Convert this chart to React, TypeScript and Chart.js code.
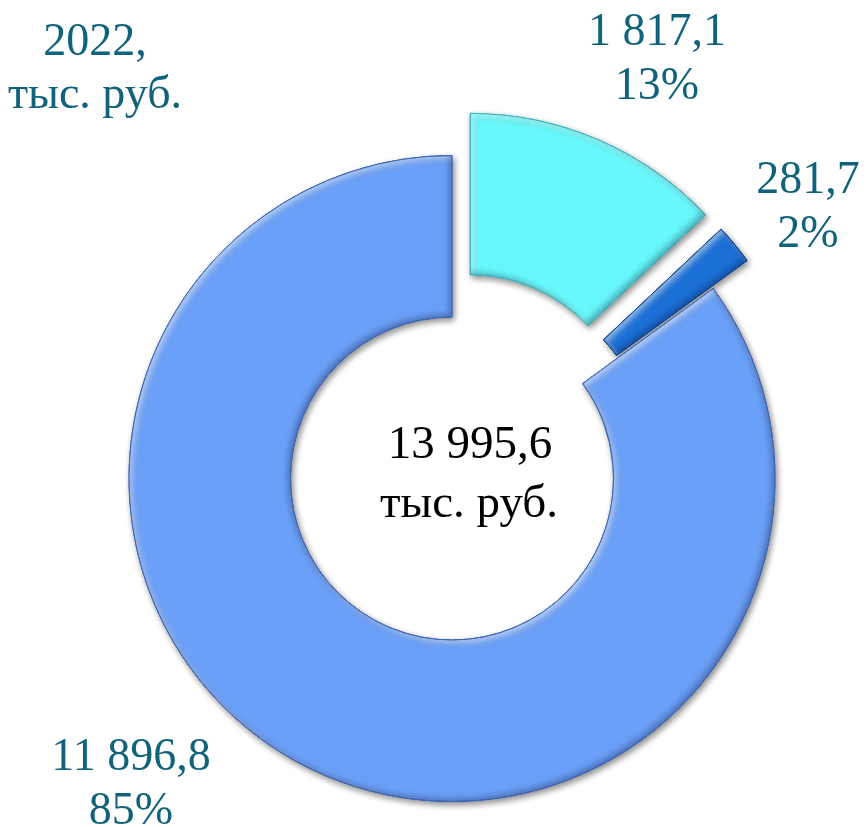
import React, { useEffect, useRef } from 'react';
import { Chart, registerables } from 'chart.js';

Chart.register(...registerables);

// ---- data ----
const categories = ['Часть 1', 'Часть 2', 'Часть 3'];
const values = [1817.1, 281.7, 11896.8];
const titleLines = ['2022,', 'тыс. руб.'];
const unitLabel = 'тыс. руб.';

// ---- styles ----
const fillColors = ['#67f8fb', '#1b70d7', '#6ba0f8'];
const edgeColors = ['#3cc4cc', '#0b4a9e', '#3f6cc0'];
const explode = [46, 44, 0];
const labelColor = '#10637a';
const FONT = '"Liberation Serif", "Times New Roman", serif';

const total = values.reduce((a, b) => a + b, 0);
const fmt = (v: number) => {
  const [i, d] = v.toFixed(1).split('.');
  return i.replace(/\B(?=(\d{3})+(?!\d))/g, ' ') + ',' + d;
};
const pct = (v: number) => Math.round((v / total) * 100) + '%';

// label anchor positions (center x, first baseline y)
const labelAnchors = [
  [657, 45],
  [808, 193],
  [131, 770],
];

const bevelPlugin = {
  id: 'bevelArcs',
  beforeDatasetDraw(chart: any, args: any) {
    const ctx: CanvasRenderingContext2D = chart.ctx;
    args.meta.data.forEach((arc: any, i: number) => {
      const { x, y, startAngle, endAngle, innerRadius, outerRadius } = arc.getProps(
        ['x', 'y', 'startAngle', 'endAngle', 'innerRadius', 'outerRadius'],
        true
      );
      const mid = (startAngle + endAngle) / 2;
      const d = explode[i] || 0;
      ctx.save();
      ctx.translate(Math.cos(mid) * d, Math.sin(mid) * d);
      // drop shadow + body
      ctx.save();
      ctx.shadowColor = 'rgba(0,0,0,0.45)';
      ctx.shadowBlur = 6;
      ctx.shadowOffsetX = 2;
      ctx.shadowOffsetY = 3;
      arc.draw(ctx);
      ctx.restore();
      // bevel
      const p = new Path2D();
      p.arc(x, y, outerRadius, startAngle, endAngle);
      p.arc(x, y, innerRadius, endAngle, startAngle, true);
      p.closePath();
      ctx.save();
      ctx.clip(p);
      const inner = (color: string, ox: number, oy: number, blur: number) => {
        ctx.save();
        ctx.shadowColor = color;
        ctx.shadowBlur = blur;
        ctx.shadowOffsetX = ox;
        ctx.shadowOffsetY = oy;
        const q = new Path2D();
        q.rect(x - 3000, y - 3000, 6000, 6000);
        q.addPath(p);
        ctx.fillStyle = '#000';
        ctx.fill(q, 'evenodd');
        ctx.restore();
      };
      inner('rgba(255,255,255,0.55)', 3, 3, 6);
      inner('rgba(0,0,40,0.28)', -3, -3, 6);
      ctx.restore();
      // thin edge
      ctx.lineWidth = 1;
      ctx.strokeStyle = edgeColors[i];
      ctx.stroke(p);
      ctx.restore();
    });
    return false;
  },
};

const labelPlugin = {
  id: 'labels',
  afterDraw(chart: any) {
    const ctx: CanvasRenderingContext2D = chart.ctx;
    ctx.save();
    ctx.textAlign = 'center';
    ctx.textBaseline = 'alphabetic';
    ctx.fillStyle = labelColor;
    ctx.font = `46px ${FONT}`;
    values.forEach((v, i) => {
      const [lx, ly] = labelAnchors[i];
      ctx.fillText(fmt(v), lx, ly);
      ctx.fillText(pct(v), lx, ly + 54);
    });
    ctx.fillText(titleLines[0], 95, 55);
    ctx.fillText(titleLines[1], 95, 108);
    ctx.fillStyle = '#000000';
    ctx.font = `47px ${FONT}`;
    ctx.fillText(fmt(total), 470, 458);
    ctx.fillText(unitLabel, 469, 517);
    ctx.restore();
  },
};

export default function App() {
  const ref = useRef<HTMLCanvasElement>(null);
  useEffect(() => {
    const chart = new Chart(ref.current as HTMLCanvasElement, {
      type: 'doughnut',
      data: {
        labels: categories,
        datasets: [
          {
            data: values,
            backgroundColor: fillColors,
            borderColor: edgeColors,
            borderWidth: 1,
            radius: 323,
            cutout: '50%',
          } as any,
        ],
      },
      options: {
        responsive: false,
        animation: false,
        events: [],
        layout: { padding: { left: 37, top: 130, right: 0, bottom: 0 } },
        plugins: { legend: { display: false }, tooltip: { enabled: false } },
      } as any,
      plugins: [bevelPlugin, labelPlugin],
    });
    return () => chart.destroy();
  }, []);
  return (
    <div style={{ position: 'absolute', left: 0, top: 0, width: 867, height: 827, background: '#ffffff' }}>
      <canvas ref={ref} width={867} height={827} style={{ display: 'block' }} />
    </div>
  );
}
